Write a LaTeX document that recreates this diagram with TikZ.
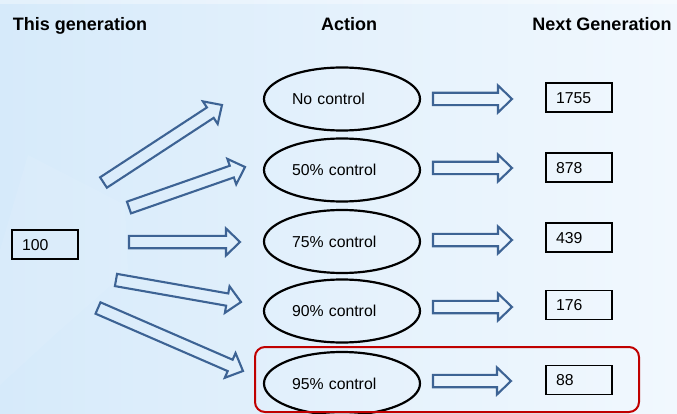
\documentclass[tikz,border=0pt]{standalone}
\usepackage{fontspec}
\setmainfont{Liberation Sans}
\usetikzlibrary{calc,shapes.geometric}
\definecolor{arrowblue}{HTML}{3D6394}
\definecolor{boxred}{HTML}{C00000}
\definecolor{bgleft}{HTML}{D6EAFA}
\definecolor{bgmid}{HTML}{E4F1FC}
\definecolor{bgright}{HTML}{F1F8FE}
\tikzset{
  header/.style={font=\fontsize{18pt}{21pt}\selectfont\bfseries, inner sep=0pt,
    text height=13pt, text depth=0pt},
  actionell/.style={ellipse, draw=black, line width=2.2pt, minimum width=156pt,
    minimum height=63pt, inner sep=0pt, text width=100pt, align=left,
    text height=11.5pt, text depth=0.3pt,
    font=\fontsize{15.8pt}{19pt}\selectfont},
  numbox/.style={rectangle, draw=black, line width=1.2pt, minimum height=29pt,
    inner ysep=0pt, inner xsep=10pt, text width=46pt, align=left,
    text height=11.5pt, text depth=0.3pt,
    font=\fontsize{15.8pt}{19pt}\selectfont},
  barrow/.style={draw=arrowblue, line width=2.1pt, line join=miter},
  highlight/.style={draw=boxred, line width=2pt, rounded corners=10pt}
}
\newcommand\blockarrow[2]{%
  \coordinate (#1h) at ($(#2)!14pt!(#1)$);
  \draw[barrow] ($(#1)!6.2pt!90:(#2)$) -- ($(#1h)!6.2pt!90:(#2)$)
    -- ($(#1h)!13.5pt!90:(#2)$) -- (#2) -- ($(#1h)!13.5pt!-90:(#2)$)
    -- ($(#1h)!6.2pt!-90:(#2)$) -- ($(#1)!6.2pt!-90:(#2)$) -- cycle;}
\begin{document}
\begin{tikzpicture}[x=1pt,y=-1pt]
\useasboundingbox (0,0) rectangle (677,414);
% background
\fill[left color=bgleft, right color=bgright, middle color=bgmid] (0,0) rectangle (677,414);
\fill[white, opacity=0.35] (0,0) rectangle (677,4);
\fill[white, opacity=0.08] (0,250) -- (28,155) -- (125,205) -- (128,270) -- (60,330) -- (0,385) -- cycle;

% headers
\node[header] (h1) at (80,24.5) {This generation};
\node[header] (h2) at (349,24.5) {Action};
\node[header] (h3) at (602,24.5) {Next Generation};

% start box
\node[numbox] (start) at (45,244.5) {100};

% action ellipses
\node[actionell] (e1) at (342,99) {No control};
\node[actionell] (e2) at (342,170) {50\% control};
\node[actionell] (e3) at (342,241.5) {75\% control};
\node[actionell] (e4) at (342,311) {90\% control};
\node[actionell] (e5) at (342,383.5) {95\% control};

% result boxes
\node[numbox] (n1) at (579,97.5) {1755};
\node[numbox] (n2) at (579,167.5) {878};
\node[numbox] (n3) at (579,237.5) {439};
\node[numbox] (n4) at (579,305) {176};
\node[numbox] (n5) at (579,380) {88};

% highlight
\draw[highlight] (255,347) rectangle (639,412);

% diagonal arrows from the start box to the actions
\coordinate (d1s) at (103.5,182.5); \coordinate (d1t) at (222,105);
\coordinate (d2s) at (129,207.5);   \coordinate (d2t) at (245,167);
\coordinate (d3s) at (129,242);     \coordinate (d3t) at (240,242);
\coordinate (d4s) at (116,280);     \coordinate (d4t) at (241,302);
\coordinate (d5s) at (98,308);      \coordinate (d5t) at (243,371);
\blockarrow{d1s}{d1t}
\blockarrow{d2s}{d2t}
\blockarrow{d3s}{d3t}
\blockarrow{d4s}{d4t}
\blockarrow{d5s}{d5t}

% arrows from actions to results
\coordinate (r1s) at (433,99);  \coordinate (r1t) at (512,99);
\coordinate (r2s) at (433,168); \coordinate (r2t) at (512,168);
\coordinate (r3s) at (433,240); \coordinate (r3t) at (512,240);
\coordinate (r4s) at (433,307); \coordinate (r4t) at (512,307);
\coordinate (r5s) at (433,381); \coordinate (r5t) at (511,381);
\blockarrow{r1s}{r1t}
\blockarrow{r2s}{r2t}
\blockarrow{r3s}{r3t}
\blockarrow{r4s}{r4t}
\blockarrow{r5s}{r5t}
\end{tikzpicture}
\end{document}
